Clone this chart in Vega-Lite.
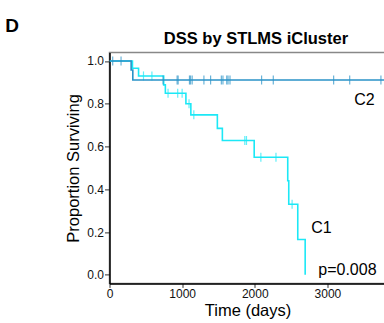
{
  "$schema": "https://vega.github.io/schema/vega-lite/v6.json",
  "autosize": {"type": "none"},
  "padding": {"left": 109.5, "top": 52.4, "right": 0, "bottom": 39.6},
  "width": 276,
  "height": 231,
  "config": {
    "view": {"stroke": "#888888", "strokeWidth": 1.5},
    "font": "Liberation Sans"
  },
  "datasets": {
    "curves": [
      {"group": "C1", "time": 0, "surv": 1.0},
      {"group": "C1", "time": 316, "surv": 0.966},
      {"group": "C1", "time": 400, "surv": 0.930},
      {"group": "C1", "time": 746, "surv": 0.888},
      {"group": "C1", "time": 769, "surv": 0.849},
      {"group": "C1", "time": 1052, "surv": 0.800},
      {"group": "C1", "time": 1120, "surv": 0.748},
      {"group": "C1", "time": 1485, "surv": 0.685},
      {"group": "C1", "time": 1554, "surv": 0.628},
      {"group": "C1", "time": 1992, "surv": 0.550},
      {"group": "C1", "time": 2454, "surv": 0.440},
      {"group": "C1", "time": 2468, "surv": 0.330},
      {"group": "C1", "time": 2592, "surv": 0.165},
      {"group": "C1", "time": 2694, "surv": 0.0},
      {"group": "C2", "time": 0, "surv": 1.0},
      {"group": "C2", "time": 298, "surv": 0.958},
      {"group": "C2", "time": 321, "surv": 0.911},
      {"group": "C2", "time": 3800, "surv": 0.911}
    ],
    "censor": [
      {"group": "C1", "time": 468, "surv": 0.930},
      {"group": "C1", "time": 584, "surv": 0.930},
      {"group": "C1", "time": 806, "surv": 0.849},
      {"group": "C1", "time": 939, "surv": 0.849},
      {"group": "C1", "time": 1000, "surv": 0.849},
      {"group": "C1", "time": 1095, "surv": 0.800},
      {"group": "C1", "time": 1161, "surv": 0.748},
      {"group": "C1", "time": 1863, "surv": 0.628},
      {"group": "C1", "time": 1886, "surv": 0.628},
      {"group": "C1", "time": 2084, "surv": 0.550},
      {"group": "C1", "time": 2292, "surv": 0.550},
      {"group": "C1", "time": 2514, "surv": 0.330},
      {"group": "C2", "time": 44, "surv": 1.0},
      {"group": "C2", "time": 159, "surv": 1.0},
      {"group": "C2", "time": 737, "surv": 0.911},
      {"group": "C2", "time": 931, "surv": 0.911},
      {"group": "C2", "time": 945, "surv": 0.911},
      {"group": "C2", "time": 1101, "surv": 0.911},
      {"group": "C2", "time": 1115, "surv": 0.911},
      {"group": "C2", "time": 1138, "surv": 0.911},
      {"group": "C2", "time": 1300, "surv": 0.911},
      {"group": "C2", "time": 1392, "surv": 0.911},
      {"group": "C2", "time": 1540, "surv": 0.911},
      {"group": "C2", "time": 1562, "surv": 0.911},
      {"group": "C2", "time": 1614, "surv": 0.911},
      {"group": "C2", "time": 1632, "surv": 0.911},
      {"group": "C2", "time": 1659, "surv": 0.911},
      {"group": "C2", "time": 2094, "surv": 0.911},
      {"group": "C2", "time": 2255, "surv": 0.911},
      {"group": "C2", "time": 3086, "surv": 0.911},
      {"group": "C2", "time": 3307, "surv": 0.911},
      {"group": "C2", "time": 3737, "surv": 0.911}
    ],
    "labels": [
      {"label": "C2", "time": 3370, "surv": 0.794},
      {"label": "C1", "time": 2777, "surv": 0.196},
      {"label": "p=0.008", "time": 2874, "surv": 0.0}
    ],
    "headings": [
      {"label": "D", "time": -1342, "surv": 1.135, "size": 19, "align": "left"},
      {"label": "DSS by STLMS iCluster", "time": 2017, "surv": 1.079, "size": 16.5, "align": "center"}
    ]
  },
  "encoding": {
    "x": {"field": "time", "type": "quantitative", "scale": {"domain": [0, 3800], "nice": false, "zero": false},
      "axis": {"values": [0, 1000, 2000, 3000], "format": "d", "title": "Time (days)", "grid": false, "domainColor": "#000", "domainWidth": 1.5, "tickColor": "#333", "tickSize": 4, "labelFontSize": 12, "labelColor": "#111", "labelPadding": 1, "titleFontSize": 16.5, "titleFontWeight": "normal", "titleColor": "#000", "titlePadding": 3, "labelFlush": false}},
    "y": {"field": "surv", "type": "quantitative", "scale": {"domain": [-0.04, 1.04], "nice": false, "zero": false},
      "axis": {"values": [0, 0.2, 0.4, 0.6, 0.8, 1.0], "format": ".1f", "title": "Proportion Surviving", "grid": false, "domainColor": "#000", "domainWidth": 1.5, "tickColor": "#333", "tickSize": 5, "labelFontSize": 12, "labelColor": "#111", "labelPadding": 1, "titleFontSize": 16.5, "titleFontWeight": "normal", "titleColor": "#000", "titlePadding": 5}}
  },
  "layer": [
    {
      "data": {"name": "curves"},
      "transform": [{"filter": "datum.group === 'C1'"}],
      "mark": {"type": "line", "interpolate": "step-after", "color": "#1ce8f6", "strokeWidth": 1.6, "clip": true}
    },
    {
      "data": {"name": "censor"},
      "transform": [{"filter": "datum.group === 'C1'"}],
      "mark": {"type": "tick", "orient": "vertical", "color": "#1ce8f6", "size": 9, "thickness": 1.2}
    },
    {
      "data": {"name": "curves"},
      "transform": [{"filter": "datum.group === 'C2'"}],
      "mark": {"type": "line", "interpolate": "step-after", "color": "#2a93c8", "strokeWidth": 1.6, "clip": true}
    },
    {
      "data": {"name": "censor"},
      "transform": [{"filter": "datum.group === 'C2'"}],
      "mark": {"type": "tick", "orient": "vertical", "color": "#2a93c8", "size": 9, "thickness": 1.2, "clip": true}
    },
    {
      "data": {"name": "labels"},
      "mark": {"type": "text", "align": "left", "baseline": "alphabetic", "color": "#000", "font": "Liberation Sans", "fontSize": 16},
      "encoding": {
        "text": {"field": "label"}
      }
    },
    {
      "data": {"name": "headings"},
      "mark": {"type": "text", "baseline": "alphabetic", "color": "#000", "font": "Liberation Sans", "fontWeight": "bold"},
      "encoding": {
        "text": {"field": "label"},
        "size": {"field": "size", "type": "quantitative", "scale": null},
        "align": {"field": "align", "type": "nominal", "scale": null}
      }
    }
  ]
}
